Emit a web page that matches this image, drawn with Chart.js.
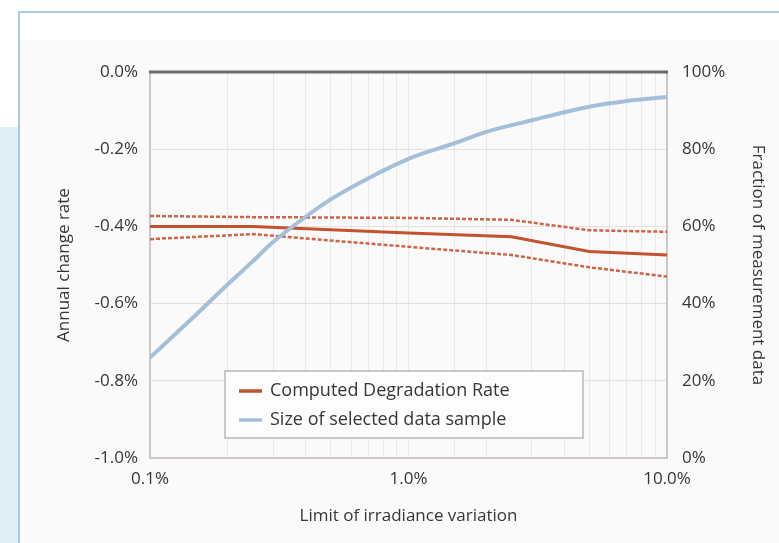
<!DOCTYPE html>
<html>
<head>
<meta charset="utf-8">
<script src="https://cdn.jsdelivr.net/npm/chart.js@4.4.0/dist/chart.umd.min.js"></script>
<style>
  html, body { margin: 0; padding: 0; background: #ffffff; width: 779px; height: 543px; overflow: hidden; }
  #sidePanel { position: absolute; left: 0; top: 127px; width: 18px; height: 420px; background: #e2eef6; }
  #frame { position: absolute; left: 18px; top: 11px; width: 780px; height: 560px; border: 2px solid #a6c9e4; background: #ffffff; }
  #inner { position: absolute; left: 20px; top: 40px; width: 780px; height: 520px; background: #fafafa; }
  #chart { position: absolute; left: 0; top: 0; }
</style>
</head>
<body>
<div id="sidePanel"></div>
<div id="frame"></div>
<div id="inner"></div>
<canvas id="chart" width="779" height="543"></canvas>
<script>
// Limit of irradiance variation (%), red series sample points
const rateLimits = [0.1, 0.25, 1, 2.5, 5, 10];
const degradationRate = [-0.400, -0.400, -0.417, -0.427, -0.465, -0.474];
const upperBound = [-0.373, -0.376, -0.378, -0.383, -0.410, -0.414];
const lowerBound = [-0.433, -0.420, -0.453, -0.474, -0.506, -0.530];

// Fraction of measurement data (%), blue series
const sampleLimits = [0.1, 0.15, 0.2, 0.25, 0.3, 0.4, 0.5, 0.7, 1, 1.5, 2, 3, 5, 7, 10];
const sampleSize = [26, 37, 45, 51, 56, 62.5, 67, 72.5, 77.5, 81.5, 84.5, 87.5, 91, 92.5, 93.5];

const leftTicks = [0, -0.2, -0.4, -0.6, -0.8, -1.0];
const rightTicks = [100, 80, 60, 40, 20, 0];

const FONT = "'Open Sans', 'DejaVu Sans', sans-serif";
const TEXT = '#363636';

const pts = (xs, ys) => xs.map((x, i) => ({ x: x, y: ys[i] }));

// top frame line + legend box drawn inside the plot
const framePlugin = {
    id: 'frameAndLegend',
    afterDraw(chart) {
        const { ctx, chartArea: a } = chart;
        ctx.save();
        ctx.strokeStyle = '#6b6b6b';
        ctx.lineWidth = 3;
        ctx.beginPath();
        ctx.moveTo(a.left - 1, a.top);
        ctx.lineTo(a.right + 1, a.top);
        ctx.stroke();

        // legend
        const items = chart.data.datasets.filter(d => d.inLegend);
        items.sort((p, q) => p.legendOrder - q.legendOrder);
        const bx = a.left + 75, by = a.top + 299, bw = 358, bh = 67;
        ctx.fillStyle = '#fdfdfd';
        ctx.fillRect(bx, by, bw, bh);
        ctx.strokeStyle = '#bdb6b2';
        ctx.lineWidth = 1.5;
        ctx.strokeRect(bx, by, bw, bh);
        ctx.font = '18px ' + FONT;
        ctx.textBaseline = 'middle';
        items.forEach((d, i) => {
            const cy = by + 20 + i * 29;
            ctx.strokeStyle = d.borderColor;
            ctx.lineWidth = 3.5;
            ctx.beginPath();
            ctx.moveTo(bx + 14, cy);
            ctx.lineTo(bx + 37, cy);
            ctx.stroke();
            ctx.fillStyle = TEXT;
            ctx.fillText(d.label, bx + 45, cy);
        });
        ctx.restore();
    }
};

const isDecade = v => Math.abs(Math.log10(v) - Math.round(Math.log10(v))) < 1e-6;

new Chart(document.getElementById('chart').getContext('2d'), {
    type: 'line',
    data: {
        datasets: [
            {
                label: 'Size of selected data sample',
                data: pts(sampleLimits, sampleSize),
                borderColor: '#a4bfd9',
                borderWidth: 4,
                pointRadius: 0,
                cubicInterpolationMode: 'monotone',
                yAxisID: 'y1',
                inLegend: true,
                legendOrder: 2
            },
            {
                label: 'Computed Degradation Rate',
                data: pts(rateLimits, degradationRate),
                borderColor: '#c2532e',
                borderWidth: 3,
                pointRadius: 0,
                tension: 0,
                yAxisID: 'y',
                inLegend: true,
                legendOrder: 1
            },
            {
                label: 'Upper bound',
                data: pts(rateLimits, upperBound),
                borderColor: '#cc6547',
                borderWidth: 2.5,
                borderDash: [4, 2],
                pointRadius: 0,
                tension: 0,
                yAxisID: 'y'
            },
            {
                label: 'Lower bound',
                data: pts(rateLimits, lowerBound),
                borderColor: '#cc6547',
                borderWidth: 2.5,
                borderDash: [4, 2],
                pointRadius: 0,
                tension: 0,
                yAxisID: 'y'
            }
        ]
    },
    options: {
        responsive: false,
        animation: false,
        devicePixelRatio: 1,
        layout: { padding: { left: 0, right: 0, top: 72, bottom: 0 } },
        plugins: { legend: { display: false }, tooltip: { enabled: false } },
        scales: {
            x: {
                type: 'logarithmic',
                min: 0.1,
                max: 10,
                afterFit: s => { s.height = 85; },
                grid: { color: '#ebe7e5', lineWidth: 1, drawTicks: false },
                border: { color: '#cdc6c2', width: 2 },
                ticks: {
                    autoSkip: false,
                    maxRotation: 0,
                    padding: 11,
                    color: TEXT,
                    font: { family: FONT, size: 17 },
                    callback: v => isDecade(v) ? v.toFixed(1) + '%' : ''
                },
                title: {
                    display: true,
                    text: 'Limit of irradiance variation',
                    color: TEXT,
                    font: { family: FONT, size: 17 },
                    padding: { top: 0, bottom: 17 }
                }
            },
            y: {
                position: 'left',
                min: -1,
                max: 0,
                afterFit: s => { s.width = 150; },
                afterBuildTicks: s => { s.ticks = leftTicks.map(v => ({ value: v })); },
                grid: { color: '#e6dfdb', lineWidth: 1, drawTicks: false },
                border: { color: '#cdc6c2', width: 2 },
                ticks: {
                    padding: 12,
                    color: TEXT,
                    font: { family: FONT, size: 17 },
                    callback: v => v.toFixed(1) + '%'
                },
                title: {
                    display: true,
                    text: 'Annual change rate',
                    color: TEXT,
                    font: { family: FONT, size: 17 },
                    padding: { top: 54, bottom: 0 }
                }
            },
            y1: {
                position: 'right',
                min: 0,
                max: 100,
                afterFit: s => { s.width = 112; },
                afterBuildTicks: s => { s.ticks = rightTicks.map(v => ({ value: v })); },
                grid: { drawOnChartArea: false, drawTicks: false },
                border: { color: '#cdc6c2', width: 2 },
                ticks: {
                    padding: 15,
                    color: TEXT,
                    font: { family: FONT, size: 17 },
                    callback: v => v + '%'
                },
                title: {
                    display: true,
                    text: 'Fraction of measurement data',
                    color: TEXT,
                    font: { family: FONT, size: 17 },
                    padding: { top: 11, bottom: 0 }
                }
            }
        }
    },
    plugins: [framePlugin]
});
</script>
</body>
</html>
